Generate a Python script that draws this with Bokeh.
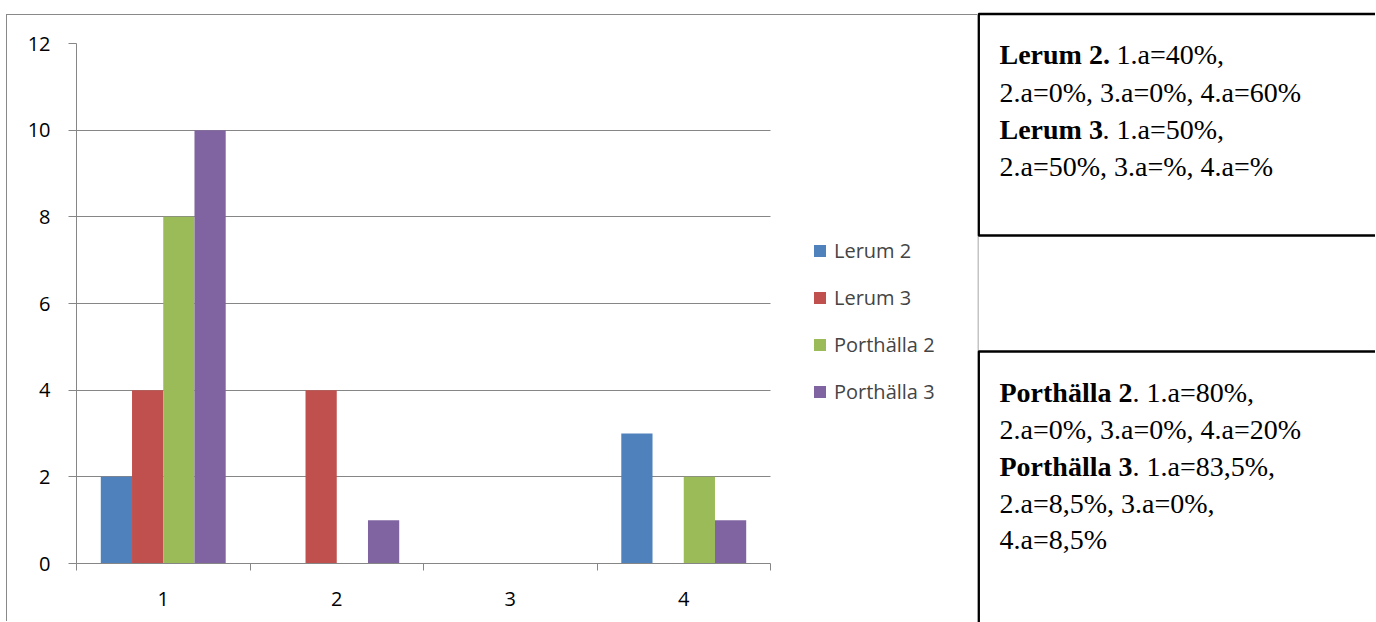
from bokeh.plotting import figure
from bokeh.models import Range1d, FixedTicker, Legend, LegendItem
from bokeh.transform import dodge
from bokeh.layouts import row
from bokeh.core.properties import value
from bokeh.embed import file_html
from bokeh.resources import INLINE

# ---------------- data ----------------
categories = [1, 2, 3, 4]
tick_labels = ["1", "2", "3", "4"]
lerum2 = [2, 0, 0, 3]
lerum3 = [4, 4, 0, 0]
porthalla2 = [8, 0, 0, 2]
porthalla3 = [10, 1, 0, 1]
series_names = ["Lerum 2", "Lerum 3", "Porthälla 2", "Porthälla 3"]
colors = ["#4F81BD", "#C0504D", "#9BBB59", "#8064A2"]
y_ticks = [0, 2, 4, 6, 8, 10, 12]

# notes (bold lead, rest)
notes_bold = ["Lerum 2.", "Lerum 3", "Porthälla 2", "Porthälla 3"]
notes_rest = ["1.a=40%,", ". 1.a=50%,", ". 1.a=80%,", ". 1.a=83,5%,"]
notes_lines = ["2.a=0%, 3.a=0%, 4.a=60%", "2.a=50%, 3.a=%, 4.a=%",
               "2.a=0%, 3.a=0%, 4.a=20%", "2.a=8,5%, 3.a=0%,", "4.a=8,5%"]

GRAY = "#868686"
SANS = "Open Sans"
SANS_SIZE = "20px"

# ---------------- chart ----------------
# frame spans the whole chart box to the right; the category axis covers 0.5..4.5
CANVAS_W, CANVAS_H = 971, 607
LEFT, RIGHT, TOP, BOTTOM = 69, 1, 28, 59
AXIS_PX = 694  # pixels spanned by the 4 categories
frame_w = CANVAS_W - LEFT - RIGHT
x_end = 0.5 + 4.0 * frame_w / AXIS_PX

p = figure(width=CANVAS_W, height=CANVAS_H, output_backend="svg", toolbar_location=None,
           x_range=Range1d(0.5, x_end), y_range=Range1d(0, 12),
           min_border_left=LEFT, min_border_right=RIGHT, min_border_top=TOP,
           min_border_bottom=BOTTOM)
p.frame_align = False
p.margin = (14, 0, 0, 6)
p.styles = {"border-top": "1px solid #898989", "border-left": "1px solid #898989"}
p.outline_line_color = None
p.background_fill_color = "white"

data = dict(x=categories, l2=lerum2, l3=lerum3, p2=porthalla2, p3=porthalla3)
keys = ["l2", "l3", "p2", "p3"]
offsets = [-0.27, -0.09, 0.09, 0.27]
renderers = []
for k, off, c in zip(keys, offsets, colors):
    r = p.vbar(x=dodge("x", off, range=p.x_range), top=k, width=0.18,
               source=data, fill_color=c, line_color=None)
    renderers.append(r)

# axes
p.xaxis.bounds = (0.5, 4.5)
p.xaxis.ticker = FixedTicker(ticks=categories, minor_ticks=[0.5, 1.5, 2.5, 3.5, 4.5])
p.xaxis.major_label_overrides = {c: t for c, t in zip(categories, tick_labels)}
p.xaxis.major_tick_out = 0
p.xaxis.major_tick_in = 0
p.xaxis.minor_tick_out = 7
p.xaxis.minor_tick_in = 0
p.xaxis.minor_tick_line_color = GRAY
p.xaxis.axis_line_color = GRAY
p.xaxis.major_label_standoff = 21
p.xaxis.major_label_text_font = SANS
p.xaxis.major_label_text_font_size = SANS_SIZE
p.xaxis.major_label_text_color = "black"

p.yaxis.ticker = FixedTicker(ticks=y_ticks)
p.yaxis.major_tick_out = 8
p.yaxis.major_tick_in = 0
p.yaxis.major_tick_line_color = GRAY
p.yaxis.minor_tick_line_color = None
p.yaxis.axis_line_color = GRAY
p.yaxis.major_label_standoff = 18
p.yaxis.major_label_text_font = SANS
p.yaxis.major_label_text_font_size = SANS_SIZE
p.yaxis.major_label_text_color = "black"

p.xgrid.grid_line_color = None
p.ygrid.grid_line_color = GRAY
p.ygrid.ticker = FixedTicker(ticks=y_ticks)
p.ygrid.cross_bounds = (0.5, 4.5)

legend = Legend(items=[LegendItem(label=n, renderers=[r]) for n, r in zip(series_names, renderers)],
                location=(736, 158), orientation="vertical",
                padding=0, margin=0, spacing=20, label_standoff=7,
                glyph_width=15, glyph_height=15, label_height=20,
                label_text_font=SANS, label_text_font_size=SANS_SIZE,
                label_text_baseline="middle",
                border_line_color=None, background_fill_alpha=0)
p.add_layout(legend)

# ---------------- notes panel ----------------
q = figure(width=398, height=622, output_backend="svg", toolbar_location=None,
           x_range=Range1d(978, 1376), y_range=Range1d(622, 0),
           x_axis_location=None, y_axis_location=None, min_border=0)
q.frame_align = False
q.outline_line_color = None
q.xgrid.grid_line_color = None
q.ygrid.grid_line_color = None

# chart's right border (gray)
q.segment(x0=[978.5], y0=[14], x1=[978.5], y1=[640], line_color="#898989", line_width=1)
# note boxes
q.quad(left=[979.2], right=[1400], top=[13.5], bottom=[235], fill_color="white",
       line_color="black", line_width=2.5)
q.quad(left=[979.2], right=[1400], top=[351], bottom=[700], fill_color="white",
       line_color="black", line_width=2.5)

SERIF = value("Liberation Serif")
FS = "28px"
q.text(x=[1000, 1000, 1000, 1000], y=[54, 129, 392, 466], text=notes_bold,
       text_font=SERIF, text_font_style="bold", text_font_size=FS,
       text_baseline="alphabetic", text_color="black")
q.text(x=[1117, 1103, 1133, 1133], y=[54, 129, 392, 466], text=notes_rest,
       text_font=SERIF, text_font_size=FS, text_baseline="alphabetic", text_color="black")
q.text(x=[1000] * 5, y=[92, 166, 429, 503, 539], text=notes_lines,
       text_font=SERIF, text_font_size=FS, text_baseline="alphabetic", text_color="black")

layout = row(p, q, spacing=0)
open("out.html", "w").write(file_html(layout, INLINE))
